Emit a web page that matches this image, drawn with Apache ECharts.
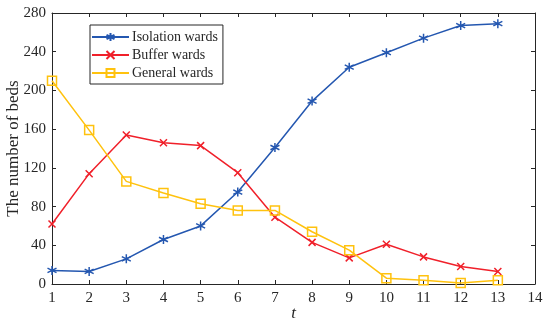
<!DOCTYPE html>
<html><head><meta charset="utf-8">
<script src="https://cdn.jsdelivr.net/npm/echarts@6/dist/echarts.min.js"></script>
<style>html,body{margin:0;padding:0;background:#fff}#c{width:550px;height:327px}</style>
</head><body><div id="c"></div>
<script>
const tValues = [1,2,3,4,5,6,7,8,9,10,11,12,13];
const isolationWards = [14,13,26,46,60,95,141,189,224,239,254,267,269];
const bufferWards = [62,114,154,146,143,115,69,43,27,41,28,18,13];
const generalWards = [210,159,106,94,83,76,76,54,35,6,4,1,4];
const seriesNames = ['Isolation wards','Buffer wards','General wards'];

const FONT = '"Liberation Serif","Times New Roman",serif';
const AX = '#262626';
const asterisk = 'path://M0,-5L0,5M-4.33,-2.5L4.33,2.5M-4.33,2.5L4.33,-2.5';
const cross = 'path://M-1,-1L1,1M-1,1L1,-1';

function pairs(v){ return tValues.map((t,i)=>[t,v[i]]); }

const chart = echarts.init(document.getElementById('c'));
const baseX = {type:'value', min:1, max:14, interval:1,
  axisLine:{show:true, onZero:false, lineStyle:{color:AX, width:1}},
  axisTick:{show:true, inside:true, length:4, lineStyle:{color:AX}},
  splitLine:{show:false}};
const baseY = {type:'value', min:0, max:280, interval:40,
  axisLine:{show:true, onZero:false, lineStyle:{color:AX, width:1}},
  axisTick:{show:true, inside:true, length:4, lineStyle:{color:AX}},
  splitLine:{show:false}};
chart.setOption({
  animation:false,
  grid:{left:52, right:15, top:13, bottom:43, containLabel:false, outerBoundsMode:'none'},
  xAxis:[
    Object.assign({}, baseX, {position:'bottom',
      axisLabel:{color:AX, fontFamily:FONT, fontSize:15, margin:7},
      name:'t', nameLocation:'middle', nameGap:21, nameMoveOverlap:false,
      nameTextStyle:{fontFamily:FONT, fontSize:17, fontStyle:'italic', color:AX}}),
    Object.assign({}, baseX, {position:'top', axisLabel:{show:false}})
  ],
  yAxis:[
    Object.assign({}, baseY, {position:'left',
      axisLabel:{color:AX, fontFamily:FONT, fontSize:15, margin:6},
      name:'The number of beds', nameLocation:'middle', nameGap:30, nameMoveOverlap:false,
      nameTextStyle:{fontFamily:FONT, fontSize:17, color:AX}}),
    Object.assign({}, baseY, {position:'right', axisLabel:{show:false}})
  ],
  legend:{
    left:90, top:25, orient:'vertical', itemGap:4, itemWidth:37, itemHeight:10,
    padding:[5,5,4,1],
    borderColor:AX, borderWidth:1, backgroundColor:'#fff',
    textStyle:{fontFamily:FONT, fontSize:14, color:AX, padding:[0,0,0,-2]},
    data:seriesNames
  },
  series:[
    {name:seriesNames[0], type:'line', data:pairs(isolationWards),
     symbol:asterisk, symbolSize:9,
     lineStyle:{color:'#2457b0', width:1.5},
     itemStyle:{color:'#2457b0', borderColor:'#2457b0', borderWidth:1.5}},
    {name:seriesNames[1], type:'line', data:pairs(bufferWards),
     symbol:cross, symbolSize:7,
     lineStyle:{color:'#f0202a', width:1.5},
     itemStyle:{color:'#f0202a', borderColor:'#f0202a', borderWidth:1.5}},
    {name:seriesNames[2], type:'line', data:pairs(generalWards),
     symbol:'rect', symbolSize:9,
     lineStyle:{color:'#ffc20e', width:1.5},
     itemStyle:{color:'rgba(255,255,255,0)', borderColor:'#ffc20e', borderWidth:1.5}}
  ]
});
</script></body></html>
